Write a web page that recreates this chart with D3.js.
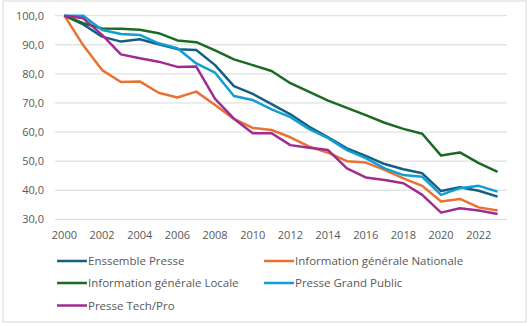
<!DOCTYPE html>
<html>
<head>
<meta charset="utf-8">
<script src="https://cdn.jsdelivr.net/npm/d3@7.9.0/dist/d3.min.js"></script>
<style>
  body { margin: 0; background: #fff; }
  svg text { font-family: "Open Sans", sans-serif; }
</style>
</head>
<body>
<svg width="530" height="326"></svg>
<script>
const years = d3.range(2000, 2024);
const yTicks = [30, 40, 50, 60, 70, 80, 90, 100];
const xTickYears = years.filter((y) => y % 2 === 0);

const ensemble = [100, 97.0, 92.8, 91.1, 91.9, 90.2, 88.5, 88.2, 83.0, 75.8, 73.1, 69.6, 66.1, 61.8, 58.2, 54.4, 51.8, 49.0, 47.2, 45.8, 39.7, 41.0, 39.8, 37.8];
const nationale = [100, 89.8, 81.3, 77.2, 77.4, 73.5, 71.9, 73.9, 69.3, 64.5, 61.4, 60.7, 58.2, 55.0, 52.9, 50.0, 49.5, 47.0, 44.1, 41.5, 36.1, 37.0, 34.1, 33.0];
const locale = [100, 97.4, 95.6, 95.5, 95.2, 94.0, 91.5, 90.9, 88.1, 85.0, 83.0, 81.0, 76.8, 73.8, 70.8, 68.3, 65.8, 63.2, 61.1, 59.4, 51.9, 53.0, 49.3, 46.3];
const grandPublic = [100, 100, 95.1, 93.7, 93.4, 90.5, 88.8, 83.6, 80.4, 72.4, 71.0, 67.8, 65.1, 61.0, 57.9, 53.8, 51.0, 47.5, 45.2, 44.6, 38.4, 40.7, 41.5, 39.5];
const techPro = [100, 99.1, 93.4, 86.7, 85.4, 84.2, 82.4, 82.5, 71.4, 64.6, 59.6, 59.6, 55.5, 54.6, 53.8, 47.5, 44.4, 43.5, 42.4, 38.4, 32.3, 33.8, 33.0, 31.8];

const seriesNames = ["Enssemble Presse", "Information générale Nationale", "Information générale Locale", "Presse Grand Public", "Presse Tech/Pro"];
const seriesValues = [ensemble, nationale, locale, grandPublic, techPro];
const colors = ["#156082", "#E97132", "#196B24", "#0F9ED5", "#A02B93"];

const svg = d3.select("svg");

// chart frame
svg.append("rect")
  .attr("x", 3).attr("y", 1)
  .attr("width", 523).attr("height", 321)
  .attr("fill", "#fff")
  .attr("stroke", "#d9d9d9");

let x = d3.scalePoint().domain(years).range([55, 507]).padding(0.5);
let y = d3.scaleLinear().domain([30, 100]).range([219.3, 15.7]);

// gridlines
svg.append("g")
  .selectAll("line")
  .data(yTicks)
  .join("line")
  .attr("x1", 55).attr("x2", 507)
  .attr("y1", (d) => y(d)).attr("y2", (d) => y(d))
  .attr("stroke", "#d9d9d9")
  .attr("stroke-width", 1);

// y tick labels
svg.append("g")
  .selectAll("text")
  .data(yTicks)
  .join("text")
  .attr("x", 44)
  .attr("y", (d) => y(d))
  .attr("dy", "0.35em")
  .attr("text-anchor", "end")
  .attr("font-size", 11)
  .attr("fill", "#595959")
  .text((d) => d3.format(".1f")(d).replace(".", ","));

// x tick labels
svg.append("g")
  .selectAll("text")
  .data(xTickYears)
  .join("text")
  .attr("x", (d) => x(d))
  .attr("y", 235)
  .attr("dy", "0.35em")
  .attr("text-anchor", "middle")
  .attr("font-size", 11)
  .attr("fill", "#595959")
  .text((d) => d);

// lines
let line = d3.line()
  .x((d, i) => x(years[i]))
  .y((d) => y(d));

seriesValues.forEach((vals, i) => {
  svg.append("path")
    .datum(vals)
    .attr("d", line)
    .attr("fill", "none")
    .attr("stroke", colors[i])
    .attr("stroke-width", 2.5)
    .attr("stroke-linejoin", "round");
});

// legend
let legendX = [57, 264];
let legendY = [261, 283, 305.5];
seriesNames.forEach((name, i) => {
  let lx = legendX[i % 2];
  let ly = legendY[Math.floor(i / 2)];
  let g = svg.append("g").attr("transform", `translate(${lx},${ly})`);
  g.append("line")
    .attr("x1", 0).attr("x2", 30)
    .attr("y1", 0).attr("y2", 0)
    .attr("stroke", colors[i])
    .attr("stroke-width", 2.5);
  g.append("text")
    .attr("x", 31)
    .attr("dy", "0.35em")
    .attr("font-size", 11.5)
    .attr("fill", "#595959")
    .text(name);
});
</script>
</body>
</html>
